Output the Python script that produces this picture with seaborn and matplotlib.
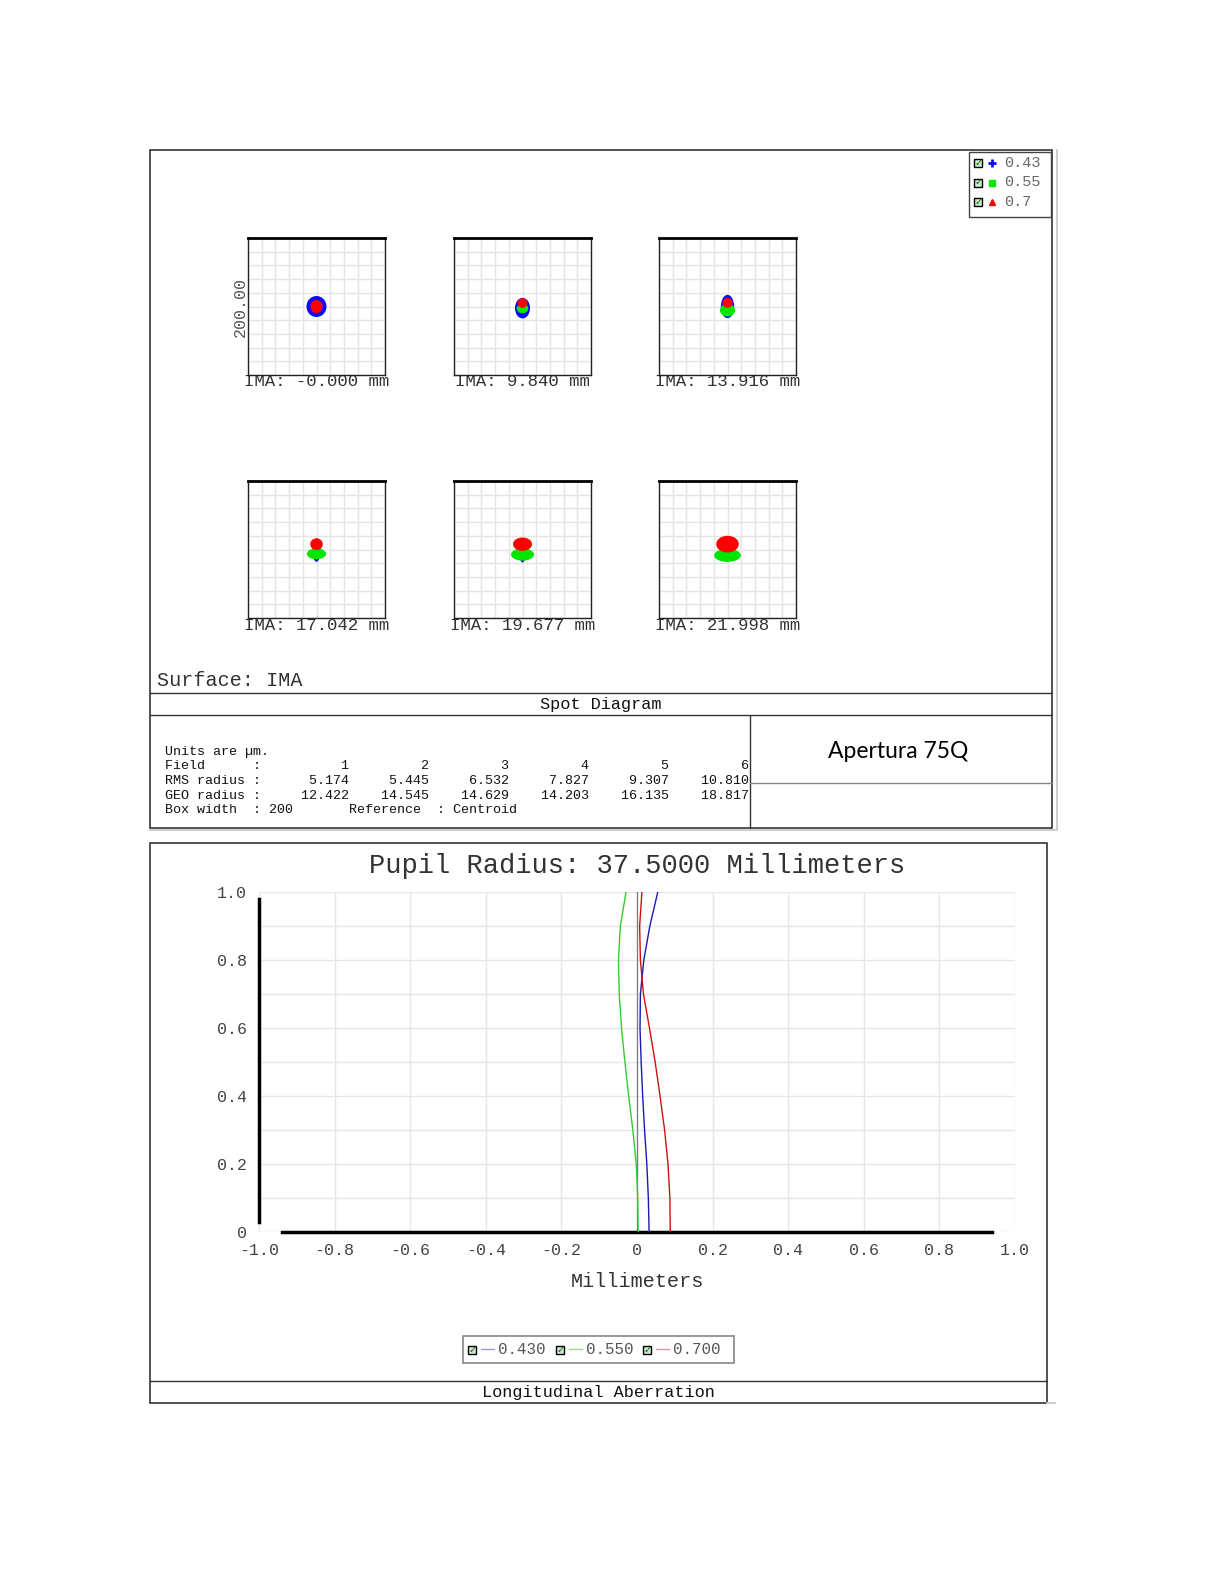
import numpy as np
import matplotlib
matplotlib.use("Agg")
import matplotlib.pyplot as plt
from matplotlib.patches import Rectangle, Ellipse
import seaborn as sns

# --- data -------------------------------------------------------------
wavelengths = ["0.43", "0.55", "0.7"]
wave_labels = ["0.430", "0.550", "0.700"]
spot_colors = ["#0a0af5", "#00e600", "#ff0000"]
curve_colors = ["#1a1ab0", "#33cc33", "#cc1111"]
legend_line_colors = ["#9a9ad8", "#9ad89a", "#d89a9a"]

field_labels = ["IMA: -0.000 mm", "IMA: 9.840 mm", "IMA: 13.916 mm",
                "IMA: 17.042 mm", "IMA: 19.677 mm", "IMA: 21.998 mm"]
field_numbers = [1, 2, 3, 4, 5, 6]
rms_radius = ["5.174", "5.445", "6.532", "7.827", "9.307", "10.810"]
geo_radius = ["12.422", "14.545", "14.629", "14.203", "16.135", "18.817"]
box_width = 200

# spot blobs per field (micrometres): centre y, half-width, half-height
blue_cy = [0, -2.4, 0, -1, -3, -4]
blue_rx = [14.6, 11, 9.7, 6, 5, 5]
blue_ry = [15.3, 15, 17, 17, 16, 14]
green_cy = [0, -3, -5.4, -6.3, -7.3, -8.5]
green_rx = [8, 8.5, 11, 14, 16.8, 19.5]
green_ry = [9, 7, 9.3, 8, 9, 9.5]
red_cy = [0, 5.1, 5.4, 7.8, 7.8, 7.8]
red_rx = [9, 7.3, 7.3, 9.2, 13.9, 16.5]
red_ry = [9.5, 7, 7.3, 8.5, 9.7, 12.2]

# longitudinal aberration (mm) vs relative pupil
pupil = [0.0, 0.1, 0.2, 0.3, 0.4, 0.5, 0.6, 0.7, 0.8, 0.9, 1.0]
ab_430 = [0.032, 0.030, 0.026, 0.020, 0.015, 0.011, 0.008, 0.009, 0.018, 0.034, 0.055]
ab_550 = [0.003, 0.002, -0.002, -0.011, -0.022, -0.032, -0.041, -0.047, -0.049, -0.044, -0.029]
ab_700 = [0.088, 0.087, 0.082, 0.073, 0.061, 0.048, 0.033, 0.017, 0.009, 0.007, 0.013]

# --- setup ------------------------------------------------------------
sns.set_style("white")
mono = "Liberation Mono"
plt.rcParams["font.family"] = [mono, "DejaVu Sans"]

W, H = 1225, 1585
fig = plt.figure(figsize=(W / 100, H / 100), dpi=100)


def rect(x0, y0, x1, y1):
    return [x0 / W, 1 - y1 / H, (x1 - x0) / W, (y1 - y0) / H]


bg = fig.add_axes([0, 0, 1, 1], zorder=0)
bg.set_xlim(0, W)
bg.set_ylim(H, 0)
bg.axis("off")

# frames of top panel
bg.add_patch(Rectangle((150, 150), 902, 678, fill=False, ec="#222", lw=1.1))
bg.plot([1057, 1057], [150, 830], color="#cfcfcf", lw=1.5)
bg.plot([150, 1057], [830, 830], color="#cfcfcf", lw=1.5)
bg.plot([150, 1052], [693, 693], color="#333", lw=1)
bg.plot([150, 1052], [715, 715], color="#333", lw=1)
bg.plot([750, 750], [715, 828], color="#333", lw=1)
bg.plot([750, 1052], [783, 783], color="#888", lw=1)

bg.text(157, 680, "Surface: IMA", fontsize=14.5, color="#333", va="center")
bg.text(601, 705, "Spot Diagram", fontsize=12.2, color="#111", ha="center", va="center")
bg.text(898, 752, "Apertura 75Q", family="Lato", fontsize=16.5, color="#000",
        ha="center", va="center")

# table text
rows = ["Units are \u00b5m.",
        "Field      :" + " " + "".join(f"{n:>10}" for n in field_numbers)[0:],
        "RMS radius :" + " " + "".join(f"{v:>10}" for v in rms_radius),
        "GEO radius :" + " " + "".join(f"{v:>10}" for v in geo_radius),
        f"Box width  : {box_width}       Reference  : Centroid"]
row_y = [752, 766, 781, 796, 810]
for txt, ty in zip(rows, row_y):
    bg.text(165, ty, txt, fontsize=9.6, color="#111", va="center")

# spot diagram boxes
box_left = [248, 454, 659]
box_top = [238, 481]
blobs = [(blue_cy, blue_rx, blue_ry), (green_cy, green_rx, green_ry), (red_cy, red_rx, red_ry)]
for i, label in enumerate(field_labels):
    x0 = box_left[i % 3]
    y0 = box_top[i // 3]
    ax = fig.add_axes(rect(x0, y0, x0 + 137, y0 + 137), zorder=1)
    half = box_width / 2
    ax.set_xlim(-half, half)
    ax.set_ylim(-half, half)
    ticks = np.linspace(-half, half, 11)
    ax.set_xticks(ticks)
    ax.set_yticks(ticks)
    ax.tick_params(length=0, labelbottom=False, labelleft=False)
    ax.grid(True, color="#e4e4e4", lw=1)
    for s in ax.spines.values():
        s.set_color("#222")
        s.set_linewidth(1)
    ax.spines["top"].set_linewidth(2)
    ax.spines["top"].set_color("#000")
    for (cy, rx, ry), col in zip(blobs, spot_colors):
        ax.add_patch(Ellipse((0, cy[i]), 2 * rx[i], 2 * ry[i], color=col, lw=0, zorder=3))
    bg.text(x0 + 68.5, y0 + 144, label, fontsize=12.5, color="#333",
            ha="center", va="center")
    if i == 0:
        bg.text(240, y0 + 69, f"{box_width:.2f}", fontsize=12, color="#555",
                rotation=90, ha="center", va="center")

# top-right legend
bg.add_patch(Rectangle((969, 152), 82, 65, fc="white", ec="#444", lw=1))


def checkbox(x, y):
    bg.add_patch(Rectangle((x - 4, y - 4), 8, 8, fc="#cfe8cf", ec="#000", lw=1, zorder=3))
    bg.text(x + 0.5, y, "\u2713", family="DejaVu Sans", fontsize=7, fontweight="bold",
            color="#006400", ha="center", va="center", zorder=4)


leg_markers = ["+", "s", "^"]
leg_ms = [6, 4.5, 4.5]
for j, (wl, col) in enumerate(zip(wavelengths, spot_colors)):
    ly = 163 + j * 19.5
    checkbox(978, ly)
    bg.plot(992, ly, marker=leg_markers[j], color=col, ms=leg_ms[j], mew=2 if j == 0 else 1,
            ls="none")
    bg.text(1004, ly, wl, fontsize=11, color="#666", va="center")

# --- longitudinal aberration panel ----------------------------------------
bg.add_patch(Rectangle((150, 843), 897, 560, fill=False, ec="#222", lw=1.1))
bg.plot([150, 1047], [1381, 1381], color="#333", lw=1)
bg.plot([1047, 1055], [1403, 1403], color="#cfcfcf", lw=1.5)
bg.text(598, 1393, "Longitudinal Aberration", fontsize=12.2, color="#111",
        ha="center", va="center")
bg.text(637, 866, "Pupil Radius: 37.5000 Millimeters", fontsize=19.5, color="#333",
        ha="center", va="center")

ax = fig.add_axes(rect(259, 892, 1015, 1232), zorder=1)
ax.set_xlim(-1, 1)
ax.set_ylim(0, 1)
ax.axvline(0, color="#7a7a7a", lw=0.9, zorder=1)
for ab, col in zip([ab_430, ab_550, ab_700], curve_colors):
    sns.lineplot(x=ab, y=pupil, orient="y", sort=False, estimator=None,
                 color=col, lw=1, ax=ax, zorder=3)

xt = np.round(np.arange(-1, 1.01, 0.2), 1)
ax.set_xticks(xt)
ax.set_xticklabels(["0" if v == 0 else f"{v:.1f}" for v in xt])
yt = np.round(np.arange(0, 1.01, 0.1), 1)
ax.set_yticks(yt)
ax.set_yticklabels(["0" if v == 0 else (f"{v:.1f}" if round(v * 10) % 2 == 0 else "") for v in yt])
ax.tick_params(axis="x", direction="in", length=5, width=1, color="#222",
               labelsize=12, labelcolor="#444", pad=8)
ax.tick_params(axis="y", direction="out", length=4, width=1, color="#222",
               labelsize=12, labelcolor="#444", pad=5)
ax.grid(True, color="#e6e6e6", lw=1, zorder=0)
ax.set_axisbelow(True)
for s in ["top", "right"]:
    ax.spines[s].set_visible(False)
ax.spines["left"].set_bounds(0.03, 0.98)
ax.spines["left"].set_linewidth(2.5)
ax.spines["left"].set_color("#000")
ax.spines["bottom"].set_bounds(-0.94, 0.94)
ax.spines["bottom"].set_linewidth(2.5)
ax.spines["bottom"].set_color("#000")
ax.set_xlabel("Millimeters", fontsize=14.5, color="#333", labelpad=10)
ax.set_ylabel("")

# bottom legend
bg.add_patch(Rectangle((463, 1336), 271, 27, fc="white", ec="#888", lw=1.2))
leg_x = [472, 560, 647]
for lx, lab, lcol in zip(leg_x, wave_labels, legend_line_colors):
    checkbox(lx, 1350)
    bg.plot([lx + 9, lx + 22], [1349, 1349], color=lcol, lw=1)
    bg.text(lx + 26, 1349, lab, fontsize=11.3, color="#555", va="center")

fig.savefig("out.png", dpi=100, facecolor="white")
